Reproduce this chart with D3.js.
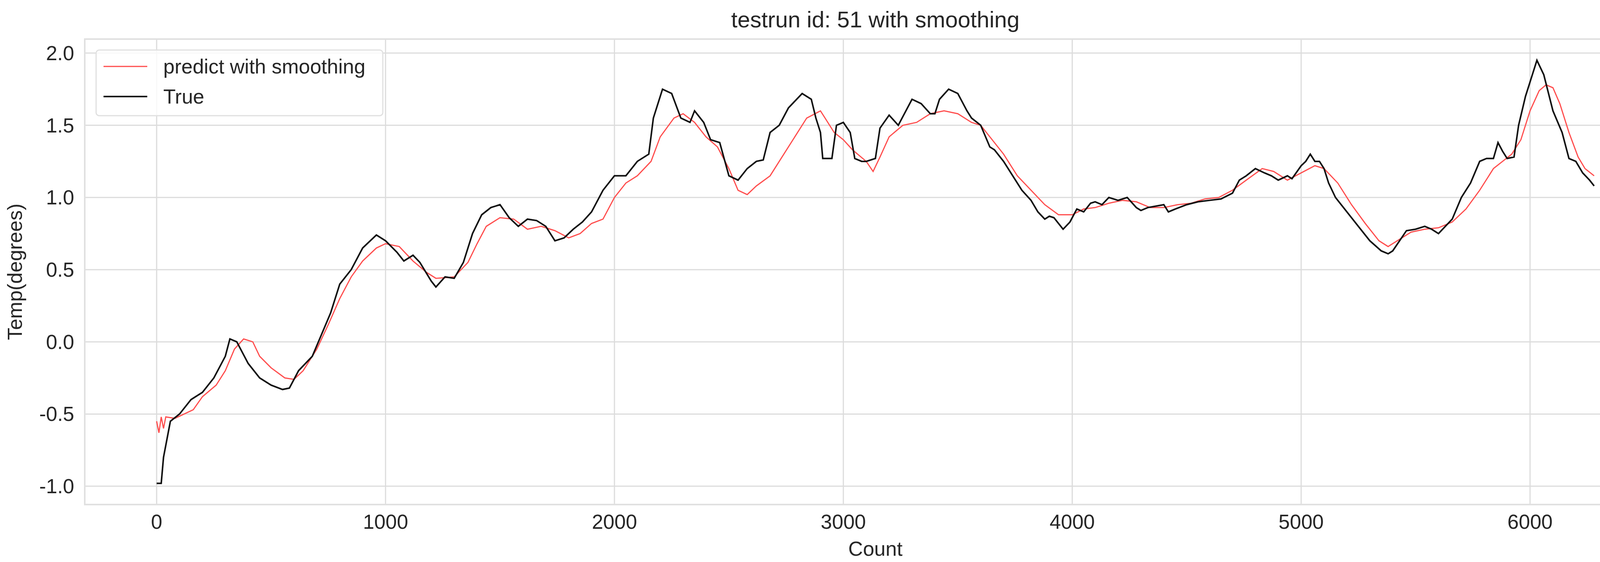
<!DOCTYPE html>
<html><head><meta charset="utf-8">
<script src="https://cdn.jsdelivr.net/npm/d3@7"></script>
<style>body{margin:0;background:#fff}svg{font-family:Arial,"Liberation Sans",sans-serif}</style>
</head><body><svg id="c" width="4282" height="1438"></svg>
<script>
const trueX = [0,20,30,60,100,150,200,250,300,320,350,400,450,500,550,580,620,680,720,760,800,850,900,960,1000,1050,1080,1120,1150,1200,1220,1260,1300,1340,1380,1420,1460,1500,1540,1580,1620,1660,1700,1740,1780,1820,1860,1900,1950,2000,2050,2100,2150,2170,2210,2250,2290,2330,2350,2390,2420,2460,2500,2540,2580,2620,2650,2680,2720,2760,2820,2860,2880,2900,2910,2950,2970,3000,3030,3050,3080,3100,3140,3160,3200,3240,3260,3300,3340,3380,3400,3420,3460,3500,3540,3560,3600,3640,3660,3700,3740,3780,3820,3850,3880,3900,3920,3940,3960,3990,4020,4050,4080,4100,4130,4160,4200,4240,4280,4300,4330,4400,4420,4450,4500,4550,4600,4650,4700,4730,4760,4800,4840,4870,4900,4940,4960,5000,5020,5040,5060,5080,5100,5120,5150,5200,5250,5300,5350,5380,5400,5430,5460,5500,5540,5570,5600,5630,5660,5700,5740,5780,5810,5840,5860,5880,5900,5930,5950,5980,6010,6030,6060,6100,6140,6170,6200,6230,6260,6280];
const trueY = [-0.98,-0.98,-0.8,-0.55,-0.5,-0.4,-0.35,-0.25,-0.1,0.02,0.0,-0.15,-0.25,-0.3,-0.33,-0.32,-0.2,-0.1,0.05,0.2,0.4,0.5,0.65,0.74,0.7,0.62,0.56,0.6,0.55,0.42,0.38,0.45,0.44,0.55,0.75,0.88,0.93,0.95,0.86,0.8,0.85,0.84,0.8,0.7,0.72,0.78,0.83,0.9,1.05,1.15,1.15,1.25,1.3,1.55,1.75,1.72,1.55,1.52,1.6,1.52,1.4,1.38,1.15,1.12,1.2,1.25,1.26,1.45,1.5,1.62,1.72,1.68,1.55,1.45,1.27,1.27,1.5,1.52,1.45,1.27,1.25,1.25,1.27,1.48,1.57,1.5,1.56,1.68,1.65,1.58,1.58,1.68,1.75,1.72,1.6,1.55,1.5,1.35,1.33,1.25,1.15,1.05,0.98,0.9,0.85,0.87,0.86,0.82,0.78,0.83,0.92,0.9,0.96,0.97,0.95,1.0,0.98,1.0,0.93,0.91,0.93,0.95,0.9,0.92,0.95,0.97,0.98,0.99,1.03,1.12,1.15,1.2,1.17,1.15,1.12,1.15,1.13,1.22,1.25,1.3,1.25,1.25,1.2,1.1,1.0,0.9,0.8,0.7,0.63,0.61,0.63,0.7,0.77,0.78,0.8,0.78,0.75,0.8,0.85,1.0,1.1,1.25,1.27,1.27,1.38,1.32,1.27,1.28,1.5,1.7,1.85,1.95,1.85,1.6,1.45,1.27,1.25,1.17,1.12,1.08];
const predX = [0,10,20,30,40,80,120,160,200,260,300,340,380,420,450,500,560,600,640,700,750,800,850,900,960,1000,1060,1120,1180,1220,1300,1360,1400,1440,1500,1560,1620,1680,1740,1800,1850,1900,1950,2000,2050,2100,2160,2200,2260,2300,2350,2400,2450,2500,2540,2580,2620,2680,2720,2780,2840,2900,2920,2960,3000,3040,3100,3130,3160,3200,3260,3320,3380,3440,3500,3560,3600,3640,3700,3760,3820,3880,3940,4000,4050,4100,4160,4220,4280,4340,4400,4460,4520,4580,4640,4700,4760,4830,4880,4940,5000,5060,5100,5160,5220,5280,5340,5380,5420,5480,5540,5600,5660,5720,5780,5840,5880,5920,5960,6000,6040,6070,6100,6130,6170,6210,6240,6280];
const predY = [-0.55,-0.63,-0.52,-0.6,-0.52,-0.53,-0.5,-0.47,-0.38,-0.3,-0.2,-0.05,0.02,0.0,-0.1,-0.18,-0.25,-0.26,-0.2,-0.05,0.12,0.3,0.45,0.56,0.65,0.68,0.66,0.56,0.48,0.44,0.45,0.55,0.68,0.8,0.86,0.85,0.78,0.8,0.77,0.72,0.75,0.82,0.85,1.0,1.1,1.15,1.25,1.42,1.55,1.58,1.52,1.42,1.35,1.2,1.05,1.02,1.08,1.15,1.25,1.4,1.55,1.6,1.55,1.45,1.4,1.33,1.25,1.18,1.28,1.42,1.5,1.52,1.58,1.6,1.58,1.52,1.5,1.42,1.3,1.15,1.05,0.95,0.88,0.88,0.92,0.93,0.96,0.98,0.97,0.93,0.93,0.95,0.96,0.99,1.0,1.05,1.12,1.2,1.18,1.12,1.17,1.22,1.2,1.1,0.95,0.82,0.7,0.66,0.7,0.76,0.78,0.79,0.83,0.92,1.05,1.2,1.25,1.3,1.4,1.6,1.74,1.78,1.76,1.65,1.45,1.28,1.2,1.15];
const xTicks = [0,1000,2000,3000,4000,5000,6000];
const yTicks = [-1.0,-0.5,0.0,0.5,1.0,1.5,2.0];
const seriesNames = ["predict with smoothing","True"];

const svg = d3.select("#c");
const L=217,R=4265,T=100,B=1291;
const x = d3.scaleLinear().domain([-314,6594]).range([L,R]);
const y = d3.scaleLinear().domain([-1.127,2.097]).range([B,T]);
const grid="#dcdcdc";
svg.append("g").selectAll("line").data(xTicks).join("line")
 .attr("x1",d=>x(d)).attr("x2",d=>x(d)).attr("y1",T).attr("y2",B).attr("stroke",grid).attr("stroke-width",3);
svg.append("g").selectAll("line").data(yTicks).join("line")
 .attr("y1",d=>y(d)).attr("y2",d=>y(d)).attr("x1",L).attr("x2",R).attr("stroke",grid).attr("stroke-width",3);
svg.append("rect").attr("x",L).attr("y",T).attr("width",R-L).attr("height",B-T).attr("fill","none").attr("stroke","#e0e0e0").attr("stroke-width",4);
svg.append("g").selectAll("text").data(xTicks).join("text")
 .attr("x",d=>x(d)).attr("y",1353).attr("text-anchor","middle").attr("font-size",52).attr("fill","#262626").text(d=>d);
svg.append("g").selectAll("text").data(yTicks).join("text")
 .attr("x",190).attr("y",d=>y(d)+18).attr("text-anchor","end").attr("font-size",52).attr("fill","#262626").text(d=>d.toFixed(1));
const line=d3.line().x(d=>x(d[0])).y(d=>y(d[1]));
svg.append("path").datum(predX.map((v,i)=>[v,predY[i]])).attr("d",line).attr("fill","none").attr("stroke","#ff4d4d").attr("stroke-width",3);
svg.append("path").datum(trueX.map((v,i)=>[v,trueY[i]])).attr("d",line).attr("fill","none").attr("stroke","#111").attr("stroke-width",4);
svg.append("text").attr("x",(L+R)/2).attr("y",70).attr("text-anchor","middle").attr("font-size",58).attr("fill","#262626").text("testrun id: 51 with smoothing");
svg.append("text").attr("x",(L+R)/2).attr("y",1422).attr("text-anchor","middle").attr("font-size",52).attr("fill","#262626").text("Count");
svg.append("text").attr("transform","translate(56,"+((T+B)/2)+") rotate(-90)").attr("text-anchor","middle").attr("font-size",52).attr("fill","#262626").text("Temp(degrees)");
const lg=svg.append("g");
lg.append("rect").attr("x",246).attr("y",128).attr("width",734).attr("height",168).attr("rx",8).attr("fill","#fff").attr("fill-opacity",0.8).attr("stroke","#e0e0e0").attr("stroke-width",3);
const cols=["#ff4d4d","#111"];
seriesNames.forEach((n,i)=>{
 const yy=170+i*77;
 lg.append("line").attr("x1",265).attr("x2",377).attr("y1",yy).attr("y2",yy).attr("stroke",cols[i]).attr("stroke-width",i?4:3);
 lg.append("text").attr("x",418).attr("y",yy+18).attr("font-size",52).attr("fill","#262626").text(n);
});
</script></body></html>
